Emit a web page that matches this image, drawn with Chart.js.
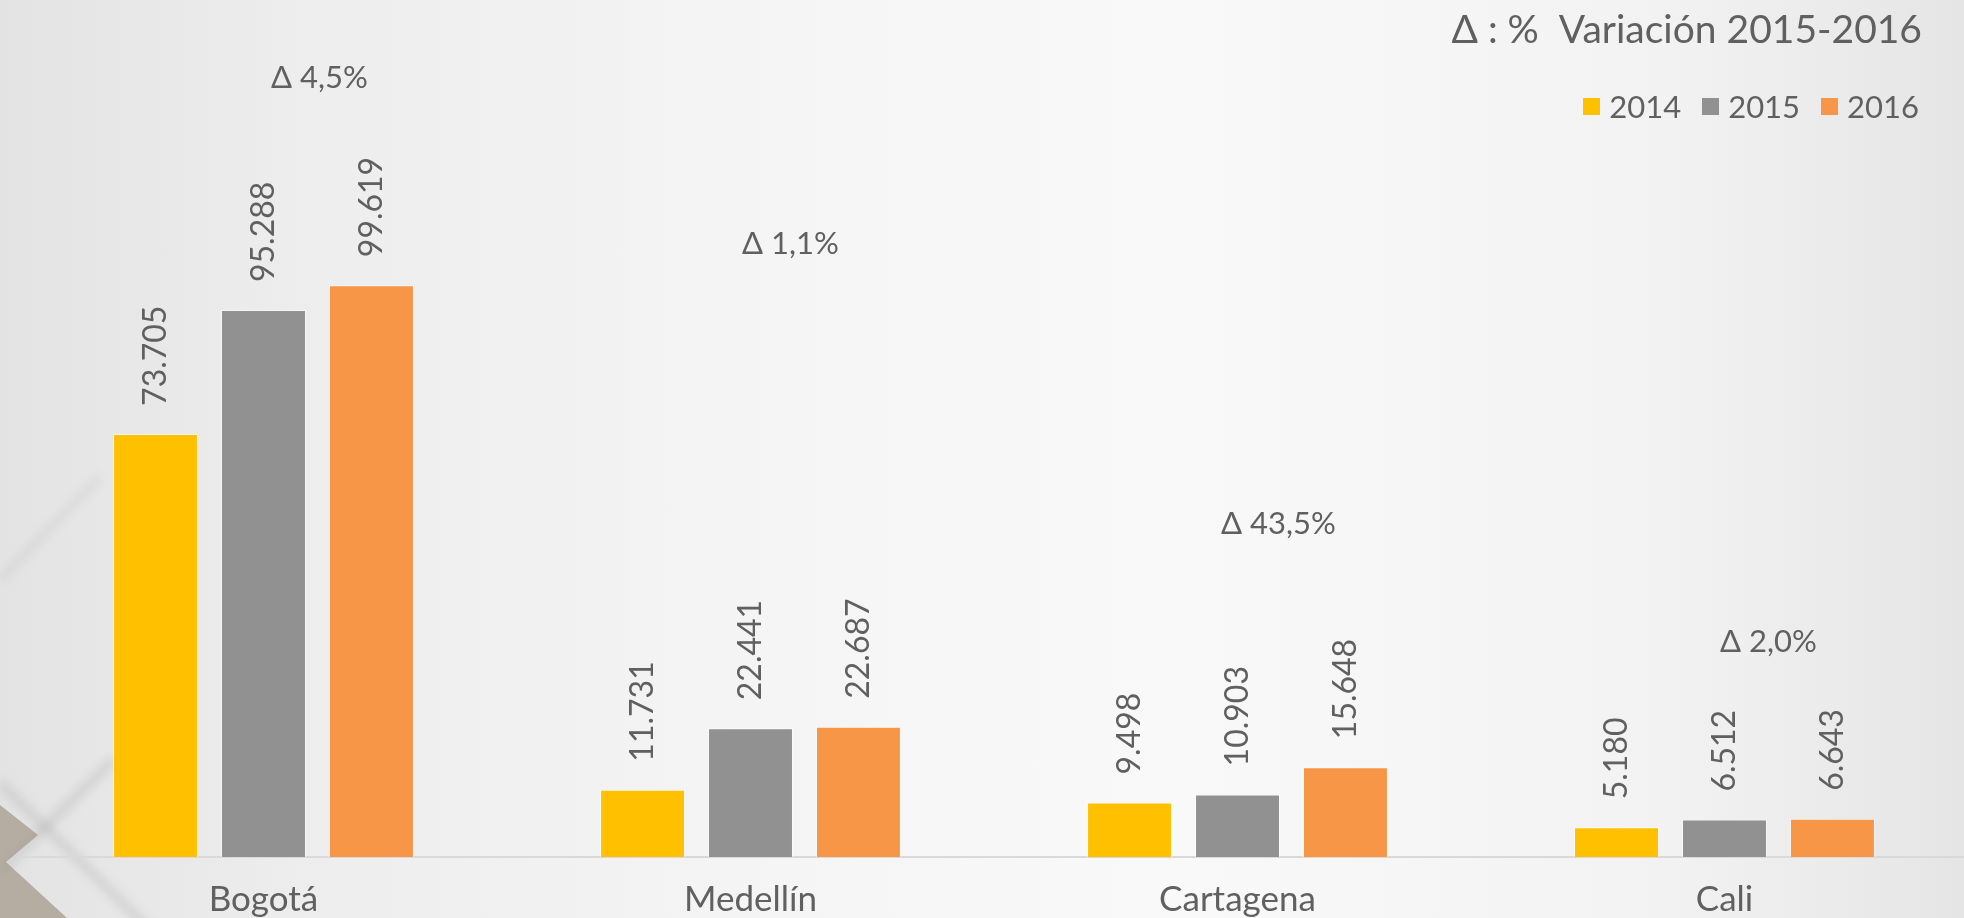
<!DOCTYPE html>
<html>
<head>
<meta charset="utf-8">
<script src="https://cdn.jsdelivr.net/npm/chart.js@4.4.0/dist/chart.umd.min.js"></script>
<style>
html,body{margin:0;padding:0;width:1964px;height:918px;overflow:hidden;}
body{position:relative;background:linear-gradient(to right,#e3e3e3 0%,#ededed 15%,#f5f5f5 40%,#f9f9f9 60%,#f2f2f2 85%,#e5e5e5 100%);font-family:Lato,"Open Sans",sans-serif;color:#606060;}
#deco{position:absolute;left:0;top:0;}
#chartBox{position:absolute;left:0;top:0;width:1970px;height:918px;}
#title{position:absolute;right:42px;top:5px;font-size:39px;white-space:pre;line-height:1.2;}
#legend{position:absolute;right:45px;top:91px;display:flex;align-items:center;font-size:31px;line-height:1;}
#legend .item{display:flex;align-items:center;margin-left:21px;}
#legend .sw{width:17px;height:17px;margin-right:9px;}
</style>
</head>
<body>
<svg id="deco" width="1964" height="918">
  <defs>
    <filter id="blur" x="-20%" y="-20%" width="140%" height="140%"><feGaussianBlur stdDeviation="5"/></filter>
  </defs>
  <polygon points="0,805 38,835 6,862 67,918 0,918" fill="#b6ada2"/>
  <line x1="0" y1="783" x2="150" y2="930" stroke="#9a9a9a" stroke-width="10" opacity="0.25" filter="url(#blur)"/>
  <line x1="0" y1="872" x2="113" y2="760" stroke="#9a9a9a" stroke-width="10" opacity="0.25" filter="url(#blur)"/>
  <line x1="0" y1="580" x2="100" y2="477" stroke="#9a9a9a" stroke-width="8" opacity="0.15" filter="url(#blur)"/>
</svg>
<div id="chartBox"><canvas id="c" width="1970" height="918"></canvas></div>
<div id="title">Δ : %  Variación 2015-2016</div>
<div id="legend"></div>
<script>
const categories = ['Bogotá', 'Medellín', 'Cartagena', 'Cali'];
const seriesNames = ['2014', '2015', '2016'];
const values2014 = [73705, 11731, 9498, 5180];
const values2015 = [95288, 22441, 10903, 6512];
const values2016 = [99619, 22687, 15648, 6643];
const variation = ['4,5%', '1,1%', '43,5%', '2,0%'];

const seriesValues = [values2014, values2015, values2016];
const seriesColors = ['#FFC000', '#919191', '#F79646'];
const deltaDx = [56, 40, 41, 44];
const deltaCy = [78, 244, 524, 642];
const textColor = '#606060';
const fontFamily = 'Lato, "Open Sans", sans-serif';

function fmt(v) {
  return String(v).replace(/\B(?=(\d{3})+(?!\d))/g, '.');
}

const legendEl = document.getElementById('legend');
seriesNames.forEach((n, i) => {
  const it = document.createElement('div');
  it.className = 'item';
  it.innerHTML = '<span class="sw" style="background:' + seriesColors[i] + '"></span><span>' + n + '</span>';
  legendEl.appendChild(it);
});

const labelsPlugin = {
  id: 'valueLabels',
  afterDatasetsDraw(chart) {
    const ctx = chart.ctx;
    ctx.save();
    ctx.fillStyle = textColor;
    ctx.font = '32px ' + fontFamily;
    chart.data.datasets.forEach((ds, di) => {
      const meta = chart.getDatasetMeta(di);
      meta.data.forEach((el, i) => {
        ctx.save();
        ctx.translate(el.x, el.y - 28);
        ctx.rotate(-Math.PI / 2);
        ctx.textAlign = 'left';
        ctx.textBaseline = 'middle';
        ctx.fillText(fmt(ds.data[i]), 0, 0);
        ctx.restore();
      });
    });
    const xs = chart.scales.x;
    ctx.font = '31px ' + fontFamily;
    ctx.textAlign = 'center';
    ctx.textBaseline = 'middle';
    variation.forEach((v, i) => {
      ctx.fillText('Δ ' + v, xs.getPixelForValue(i) + deltaDx[i], deltaCy[i]);
    });
    ctx.restore();
  }
};

function draw() {
  new Chart(document.getElementById('c'), {
    type: 'bar',
    data: {
      labels: categories,
      datasets: seriesNames.map((n, i) => ({
        label: n,
        data: seriesValues[i],
        backgroundColor: seriesColors[i],
        borderColor: 'rgba(255,255,255,0.5)',
        borderWidth: 1,
        categoryPercentage: 0.665,
        barPercentage: 0.787
      }))
    },
    options: {
      responsive: false,
      animation: false,
      events: [],
      layout: { padding: { left: 20, right: 2, top: 0, bottom: 0 } },
      plugins: { legend: { display: false }, tooltip: { enabled: false } },
      scales: {
        x: {
          grid: { display: false, drawTicks: false },
          border: { display: true, color: '#d9d9d9', width: 2 },
          ticks: { color: textColor, font: { family: fontFamily, size: 35 }, padding: 22 },
          afterFit(s) { s.height = 61; }
        },
        y: { display: false, min: 0, max: 149300 }
      }
    },
    plugins: [labelsPlugin]
  });
}
if (document.fonts && document.fonts.load) {
  Promise.all([document.fonts.load('30px Lato'), document.fonts.load('32px Lato')]).then(draw, draw);
} else { draw(); }
</script>
</body>
</html>
